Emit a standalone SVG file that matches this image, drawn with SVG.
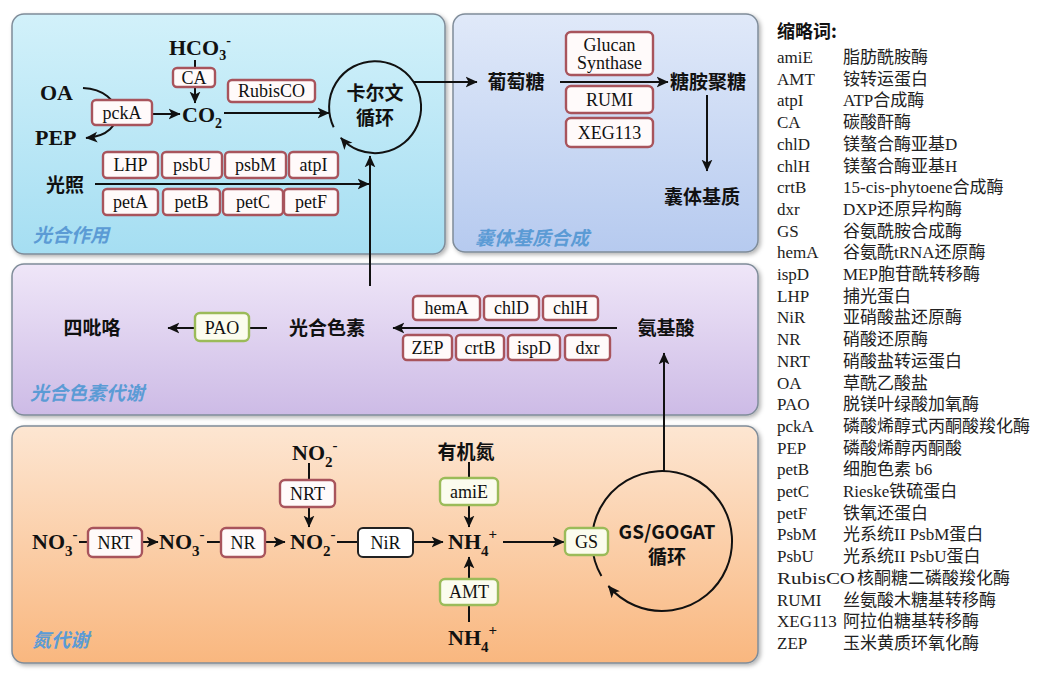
<svg xmlns="http://www.w3.org/2000/svg" width="1058" height="677" viewBox="0 0 1058 677">
<defs>
<linearGradient id="g1" x1="0" y1="0" x2="0" y2="1"><stop offset="0" stop-color="#d2f1fa"/><stop offset="1" stop-color="#a5def2"/></linearGradient>
<linearGradient id="g2" x1="0" y1="0" x2="0" y2="1"><stop offset="0" stop-color="#e0e9f9"/><stop offset="1" stop-color="#b6caef"/></linearGradient>
<linearGradient id="g3" x1="0" y1="0" x2="0" y2="1"><stop offset="0" stop-color="#efe6f8"/><stop offset="1" stop-color="#cdbbe6"/></linearGradient>
<linearGradient id="g4" x1="0" y1="0" x2="0" y2="1"><stop offset="0" stop-color="#fde6d2"/><stop offset="1" stop-color="#f9b77f"/></linearGradient>
<filter id="sh" x="-5%" y="-5%" width="110%" height="115%"><feDropShadow dx="2" dy="2" stdDeviation="2" flood-color="#000" flood-opacity="0.3"/></filter>
<marker id="ah" viewBox="0 0 10 10" refX="9.5" refY="5" markerWidth="12" markerHeight="12" markerUnits="userSpaceOnUse" orient="auto"><path d="M0,0.5 L10,5 L0,9.5 L2.5,5 z" fill="#111"/></marker>
<style>
.panel{stroke:#7f8c99;stroke-width:1.5;filter:url(#sh)}
.pl{font-family:"Noto Sans CJK SC",sans-serif;font-size:19px;font-weight:bold;font-style:italic;fill:#5b9bd5}
.enz rect{fill:#fffafa;stroke:#a8545c;stroke-width:2.4}
.gr rect{fill:#fbfcee;stroke:#9bbb59;stroke-width:2.4}
.blk rect{fill:#fff;stroke:#222;stroke-width:2}
.enz text,.gr text,.blk text{font-family:"Liberation Serif",serif;font-size:18px;text-anchor:middle;fill:#111}
.chem{font-family:"Liberation Serif",serif;font-weight:bold;font-size:22px;fill:#111}
.cn{font-family:"Noto Sans CJK SC",sans-serif;font-weight:bold;font-size:19px;fill:#111;text-anchor:middle}
.ln{stroke:#111;stroke-width:2;fill:none}
.arr{marker-end:url(#ah)}
.lg text{font-size:17px;fill:#222}
.ab{font-family:"Liberation Serif",serif}
.ds{font-family:"Liberation Serif","Noto Sans CJK SC",sans-serif}
</style>
</defs>
<rect width="1058" height="677" fill="#fff"/>

<g id="panels">
<rect id="p-photo" class="panel" x="12" y="14" width="433" height="240" rx="12" fill="url(#g1)"/>
<rect id="p-capsule" class="panel" x="453" y="14" width="305" height="238" rx="12" fill="url(#g2)"/>
<rect id="p-pigment" class="panel" x="12" y="264" width="746" height="151" rx="12" fill="url(#g3)"/>
<rect id="p-nitrogen" class="panel" x="12" y="426" width="746" height="237" rx="12" fill="url(#g4)"/>
<text class="pl" x="33" y="242">光合作用</text>
<text class="pl" x="475" y="245">囊体基质合成</text>
<text class="pl" x="30" y="400">光合色素代谢</text>
<text class="pl" x="32" y="647">氮代谢</text>
</g>

<g id="connectors">
<line class="ln" x1="195" y1="60" x2="195" y2="68"/>
<line class="ln arr" x1="195" y1="87" x2="195" y2="103"/>
<path class="ln arr" d="M83,88 C125,90 130,135 86,138"/>
<line class="ln arr" x1="152" y1="114" x2="180" y2="114"/>
<line class="ln arr" x1="224" y1="113" x2="329" y2="113"/>
<line class="ln arr" x1="95" y1="184" x2="369" y2="184"/>
<line class="ln arr" x1="370" y1="286" x2="370" y2="156"/>
<path class="ln arr" d="M333.7,127.2 A46,46 0 1 1 340.8,137.8"/>
<line class="ln arr" x1="414" y1="82" x2="477" y2="82"/>
<line class="ln arr" x1="560" y1="82" x2="668" y2="82"/>
<line class="ln arr" x1="707" y1="95" x2="707" y2="171"/>
<line class="ln arr" x1="617" y1="328" x2="393" y2="328"/>
<line class="ln" x1="249" y1="328" x2="267" y2="328"/>
<line class="ln arr" x1="195" y1="328" x2="168" y2="328"/>
<line class="ln arr" x1="664" y1="471" x2="664" y2="353"/>
<path class="ln arr" d="M601.4,576 A70,70 0 1 1 608.4,586"/>
<line class="ln" x1="79" y1="542" x2="88" y2="542"/>
<line class="ln arr" x1="142" y1="542" x2="158" y2="542"/>
<line class="ln" x1="207" y1="542" x2="221" y2="542"/>
<line class="ln arr" x1="265" y1="542" x2="285" y2="542"/>
<line class="ln" x1="337" y1="542" x2="358" y2="542"/>
<line class="ln arr" x1="413" y1="542" x2="443" y2="542"/>
<line class="ln arr" x1="503" y1="542" x2="564" y2="542"/>
<line class="ln" x1="309" y1="463" x2="309" y2="480"/>
<line class="ln arr" x1="309" y1="507" x2="309" y2="527"/>
<line class="ln" x1="469" y1="462" x2="469" y2="478"/>
<line class="ln arr" x1="469" y1="505" x2="469" y2="527"/>
<line class="ln arr" x1="469" y1="579" x2="469" y2="557"/>
<line class="ln" x1="469" y1="605" x2="469" y2="622"/>
</g>

<g id="n-hco3"><text class="chem" x="169" y="55" font-size="21">HCO<tspan font-size="14" dy="5">3</tspan><tspan font-size="14" dy="-15">-</tspan></text></g>
<g id="n-oa"><text class="chem" x="40" y="100">OA</text></g>
<g id="n-pep"><text class="chem" x="35" y="145">PEP</text></g>
<g id="n-co2"><text class="chem" x="182" y="122" font-size="21">CO<tspan font-size="14" dy="6">2</tspan></text></g>
<g id="n-light"><text class="cn" x="65" y="192" font-size="20">光照</text></g>
<g id="n-calvin"><text class="cn" x="375" y="100" font-size="17">卡尔文</text><text class="cn" x="375" y="125" font-size="17">循环</text></g>

<g id="e-ca" class="enz"><rect x="173" y="68" width="42" height="19" rx="4"/><text x="194" y="84" font-size="17">CA</text></g>
<g id="e-pcka" class="enz"><rect x="92" y="100" width="60" height="25" rx="4"/><text x="122" y="119">pckA</text></g>
<g id="e-rubisco" class="enz"><rect x="228" y="80" width="87" height="22" rx="4"/><text x="271.5" y="97">RubisCO</text></g>
<g id="e-lhp" class="enz"><rect x="103" y="152" width="55" height="26" rx="4"/><text x="130.5" y="171">LHP</text></g>
<g id="e-psbu" class="enz"><rect x="162" y="152" width="60" height="26" rx="4"/><text x="192" y="171">psbU</text></g>
<g id="e-psbm" class="enz"><rect x="225" y="152" width="61" height="26" rx="4"/><text x="255.5" y="171">psbM</text></g>
<g id="e-atpi" class="enz"><rect x="289" y="152" width="49" height="26" rx="4"/><text x="313.5" y="171">atpI</text></g>
<g id="e-peta" class="enz"><rect x="103" y="189" width="55" height="26" rx="4"/><text x="130.5" y="208">petA</text></g>
<g id="e-petb" class="enz"><rect x="163" y="189" width="57" height="26" rx="4"/><text x="191.5" y="208">petB</text></g>
<g id="e-petc" class="enz"><rect x="223" y="189" width="60" height="26" rx="4"/><text x="253" y="208">petC</text></g>
<g id="e-petf" class="enz"><rect x="284" y="189" width="54" height="26" rx="4"/><text x="311" y="208">petF</text></g>

<g id="n-glucose"><text class="cn" x="516" y="89">葡萄糖</text></g>
<g id="n-glucosamine"><text class="cn" x="708" y="89">糖胺聚糖</text></g>
<g id="n-matrix"><text class="cn" x="702" y="204">囊体基质</text></g>
<g id="e-glucan" class="enz"><rect x="566" y="32" width="87" height="43" rx="5"/><text x="609.5" y="51">Glucan</text><text x="609.5" y="69">Synthase</text></g>
<g id="e-rumi" class="enz"><rect x="566" y="86" width="87" height="27" rx="5"/><text x="609.5" y="106">RUMI</text></g>
<g id="e-xeg113" class="enz"><rect x="566" y="118" width="87" height="29" rx="5"/><text x="609.5" y="139">XEG113</text></g>

<g id="n-tetrapyrrole"><text class="cn" x="92" y="335">四吡咯</text></g>
<g id="n-pigment"><text class="cn" x="327" y="335" font-size="20">光合色素</text></g>
<g id="n-aminoacid"><text class="cn" x="666" y="335">氨基酸</text></g>
<g id="e-pao" class="gr"><rect x="195" y="313" width="54" height="28" rx="5"/><text x="222" y="334">PAO</text></g>
<g id="e-hema" class="enz"><rect x="413" y="296" width="67" height="24" rx="4"/><text x="446.5" y="314">hemA</text></g>
<g id="e-chld" class="enz"><rect x="484" y="296" width="55" height="24" rx="4"/><text x="511.5" y="314">chlD</text></g>
<g id="e-chlh" class="enz"><rect x="543" y="296" width="55" height="24" rx="4"/><text x="570.5" y="314">chlH</text></g>
<g id="e-zep" class="enz"><rect x="403" y="335" width="49" height="25" rx="4"/><text x="427.5" y="354">ZEP</text></g>
<g id="e-crtb" class="enz"><rect x="456" y="335" width="48" height="25" rx="4"/><text x="480" y="354">crtB</text></g>
<g id="e-ispd" class="enz"><rect x="508" y="335" width="52" height="25" rx="4"/><text x="534" y="354">ispD</text></g>
<g id="e-dxr" class="enz"><rect x="565" y="335" width="45" height="25" rx="4"/><text x="587.5" y="354">dxr</text></g>

<g id="n-no3a"><text class="chem" x="32" y="549" font-size="23">NO<tspan font-size="15" dy="7">3</tspan><tspan font-size="15" dy="-17">-</tspan></text></g>
<g id="n-no3b"><text class="chem" x="159" y="549" font-size="23">NO<tspan font-size="15" dy="7">3</tspan><tspan font-size="15" dy="-17">-</tspan></text></g>
<g id="n-no2"><text class="chem" x="290" y="549" font-size="23">NO<tspan font-size="15" dy="7">2</tspan><tspan font-size="15" dy="-17">-</tspan></text></g>
<g id="n-no2top"><text class="chem" x="292" y="460" font-size="23">NO<tspan font-size="15" dy="7">2</tspan><tspan font-size="15" dy="-17">-</tspan></text></g>
<g id="n-nh4"><text class="chem" x="448" y="549" font-size="23">NH<tspan font-size="15" dy="7">4</tspan><tspan font-size="15" dy="-17">+</tspan></text></g>
<g id="n-nh4b"><text class="chem" x="448" y="645" font-size="23">NH<tspan font-size="15" dy="7">4</tspan><tspan font-size="15" dy="-17">+</tspan></text></g>
<g id="n-orgn"><text class="cn" x="466" y="459" font-size="18">有机氮</text></g>
<g id="n-gsgogat"><text class="cn" x="667" y="539" font-size="17">GS/GOGAT</text><text class="cn" x="667" y="564" font-size="17">循环</text></g>
<g id="e-nrt1" class="enz"><rect x="88" y="528" width="54" height="29" rx="5"/><text x="115" y="549">NRT</text></g>
<g id="e-nr" class="enz"><rect x="221" y="528" width="44" height="29" rx="5"/><text x="243" y="549">NR</text></g>
<g id="e-nir" class="blk"><rect x="358" y="528" width="55" height="29" rx="5"/><text x="385.5" y="549">NiR</text></g>
<g id="e-nrt2" class="enz"><rect x="280" y="480" width="55" height="27" rx="5"/><text x="307.5" y="500">NRT</text></g>
<g id="e-amie" class="gr"><rect x="440" y="478" width="58" height="27" rx="5"/><text x="469" y="498">amiE</text></g>
<g id="e-amt" class="gr"><rect x="440" y="579" width="58" height="26" rx="5"/><text x="469" y="598">AMT</text></g>
<g id="e-gs" class="gr"><rect x="565" y="528" width="43" height="27" rx="5"/><text x="586.5" y="548">GS</text></g>

<g id="legend" class="lg">
<text x="777" y="38" style="font-family:'Noto Sans CJK SC',sans-serif;font-weight:bold;font-size:18px;fill:#111">缩略词:</text>
<text class="ab" x="777" y="63">amiE</text><text class="ds" x="843" y="63">脂肪酰胺酶</text>
<text class="ab" x="777" y="84.7">AMT</text><text class="ds" x="843" y="84.7">铵转运蛋白</text>
<text class="ab" x="777" y="106.4">atpI</text><text class="ds" x="843" y="106.4">ATP合成酶</text>
<text class="ab" x="777" y="128.1">CA</text><text class="ds" x="843" y="128.1">碳酸酐酶</text>
<text class="ab" x="777" y="149.8">chlD</text><text class="ds" x="843" y="149.8">镁螯合酶亚基D</text>
<text class="ab" x="777" y="171.5">chlH</text><text class="ds" x="843" y="171.5">镁螯合酶亚基H</text>
<text class="ab" x="777" y="193.2">crtB</text><text class="ds" x="843" y="193.2">15-cis-phytoene合成酶</text>
<text class="ab" x="777" y="214.9">dxr</text><text class="ds" x="843" y="214.9">DXP还原异构酶</text>
<text class="ab" x="777" y="236.6">GS</text><text class="ds" x="843" y="236.6">谷氨酰胺合成酶</text>
<text class="ab" x="777" y="258.3">hemA</text><text class="ds" x="843" y="258.3">谷氨酰tRNA还原酶</text>
<text class="ab" x="777" y="280">ispD</text><text class="ds" x="843" y="280">MEP胞苷酰转移酶</text>
<text class="ab" x="777" y="301.7">LHP</text><text class="ds" x="843" y="301.7">捕光蛋白</text>
<text class="ab" x="777" y="323.4">NiR</text><text class="ds" x="843" y="323.4">亚硝酸盐还原酶</text>
<text class="ab" x="777" y="345.1">NR</text><text class="ds" x="843" y="345.1">硝酸还原酶</text>
<text class="ab" x="777" y="366.8">NRT</text><text class="ds" x="843" y="366.8">硝酸盐转运蛋白</text>
<text class="ab" x="777" y="388.5">OA</text><text class="ds" x="843" y="388.5">草酰乙酸盐</text>
<text class="ab" x="777" y="410.2">PAO</text><text class="ds" x="843" y="410.2">脱镁叶绿酸加氧酶</text>
<text class="ab" x="777" y="431.9">pckA</text><text class="ds" x="843" y="431.9">磷酸烯醇式丙酮酸羧化酶</text>
<text class="ab" x="777" y="453.6">PEP</text><text class="ds" x="843" y="453.6">磷酸烯醇丙酮酸</text>
<text class="ab" x="777" y="475.3">petB</text><text class="ds" x="843" y="475.3">细胞色素 b6</text>
<text class="ab" x="777" y="497">petC</text><text class="ds" x="843" y="497">Rieske铁硫蛋白</text>
<text class="ab" x="777" y="518.7">petF</text><text class="ds" x="843" y="518.7">铁氧还蛋白</text>
<text class="ab" x="777" y="540.4">PsbM</text><text class="ds" x="843" y="540.4">光系统II PsbM蛋白</text>
<text class="ab" x="777" y="562.1">PsbU</text><text class="ds" x="843" y="562.1">光系统II PsbU蛋白</text>
<text class="ab" x="777" y="583.8" textLength="78" lengthAdjust="spacingAndGlyphs">RubisCO</text><text class="ds" x="857" y="583.8">核酮糖二磷酸羧化酶</text>
<text class="ab" x="777" y="605.5">RUMI</text><text class="ds" x="843" y="605.5">丝氨酸木糖基转移酶</text>
<text class="ab" x="777" y="627.2">XEG113</text><text class="ds" x="843" y="627.2">阿拉伯糖基转移酶</text>
<text class="ab" x="777" y="648.9">ZEP</text><text class="ds" x="843" y="648.9">玉米黄质环氧化酶</text>
</g>
</svg>
